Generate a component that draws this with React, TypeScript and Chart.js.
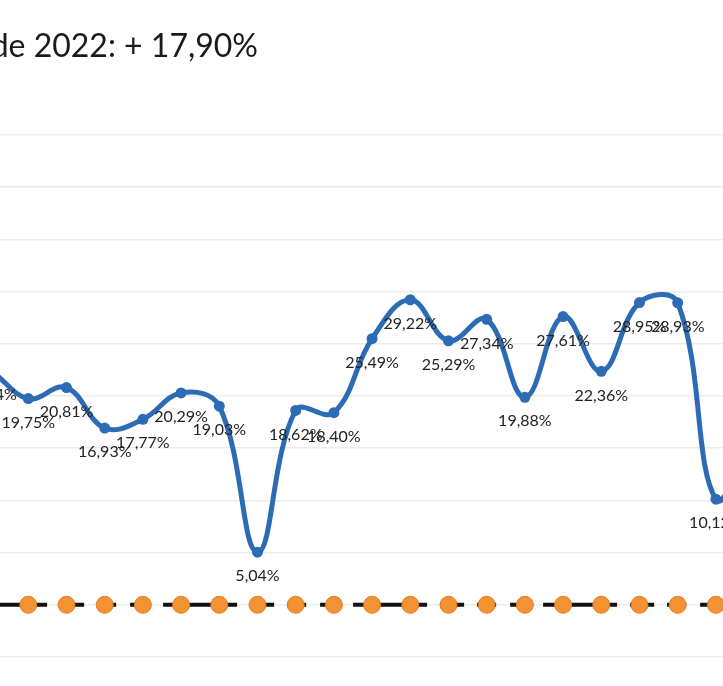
import React, { useEffect, useRef } from "react";
import { Chart, registerables } from "chart.js";

Chart.register(...registerables);

// Month positions (only part of the full series is visible in the cropped view)
const monthIndex = [-2, -1, 0, 1, 2, 3, 4, 5, 6, 7, 8, 9, 10, 11, 12, 13, 14, 15, 16, 17, 18, 19];
const rentabilidad = [24.1, 22.44, 19.75, 20.81, 16.93, 17.77, 20.29, 19.03, 5.04, 18.62, 18.4, 25.49, 29.22, 25.29, 27.34, 19.88, 27.61, 22.36, 28.95, 28.93, 10.12, 17.5];
const referencia = [0, 0, 0, 0, 0, 0, 0, 0, 0, 0, 0, 0, 0, 0, 0, 0, 0, 0, 0, 0, 0, 0];
const titleText = "de 2022: + 17,90%";
const yTicks = [-5, 0, 5, 10, 15, 20, 25, 30, 35, 40, 45];

const fmt = (v: number) => v.toFixed(2).replace(".", ",") + "%";

const labelPlugin = {
  id: "valueLabels",
  afterDatasetsDraw(chart: any) {
    const ctx = chart.ctx;
    const meta = chart.getDatasetMeta(0);
    ctx.save();
    ctx.font = "16px Lato";
    ctx.fillStyle = "#222222";
    ctx.textAlign = "center";
    ctx.textBaseline = "middle";
    meta.data.forEach((pt: any, i: number) => {
      ctx.fillText(fmt(rentabilidad[i]), pt.x, pt.y + 24);
    });
    ctx.restore();
  },
};

const titlePlugin = {
  id: "cutTitle",
  afterDraw(chart: any) {
    const ctx = chart.ctx;
    ctx.save();
    ctx.font = "32px Lato";
    ctx.fillStyle = "#1a1a1a";
    ctx.textAlign = "right";
    ctx.textBaseline = "alphabetic";
    ctx.fillText(titleText, 258, 57);
    ctx.restore();
  },
};

export default function App() {
  const ref = useRef<HTMLCanvasElement | null>(null);
  useEffect(() => {
    document.body.style.margin = "0";
    document.body.style.overflow = "hidden";
    const canvas = ref.current;
    if (!canvas) return;
    const chart = new Chart(canvas, {
      type: "line",
      data: {
        datasets: [
          {
            data: monthIndex.map((x, i) => ({ x, y: rentabilidad[i] })),
            borderColor: "#2d6cb5",
            backgroundColor: "#2d6cb5",
            borderWidth: 5,
            pointRadius: 5.5,
            pointBorderWidth: 0,
            tension: 0.4,
            fill: false,
          },
          {
            data: monthIndex.map((x, i) => ({ x, y: referencia[i] })),
            borderColor: "#111111",
            backgroundColor: "#f39233",
            pointBorderColor: "#e07d22",
            pointBorderWidth: 1,
            borderWidth: 4,
            borderDash: [74, 13, 24, 13, 19, 14, 16, 17],
            borderDashOffset: 17,
            pointRadius: 8.5,
            tension: 0,
            fill: false,
          },
        ],
      },
      options: {
        animation: false,
        responsive: false,
        events: [],
        layout: { padding: { top: 135, bottom: 29, left: 0, right: 0 }, autoPadding: false },
        plugins: { legend: { display: false }, tooltip: { enabled: false }, title: { display: false } },
        scales: {
          x: { type: "linear", display: false, min: -0.741, max: 18.186 },
          y: {
            min: -5,
            max: 45,
            afterBuildTicks: (s: any) => {
              s.ticks = yTicks.map((v) => ({ value: v }));
            },
            afterFit: (s: any) => {
              s.width = 0;
            },
            ticks: { display: false },
            border: { display: false },
            grid: { color: "#ececec", lineWidth: 1.5, drawTicks: false },
          },
        },
      },
      plugins: [labelPlugin, titlePlugin],
    });
    return () => chart.destroy();
  }, []);
  return (
    <div style={{ width: 723, height: 686, background: "#ffffff" }}>
      <canvas ref={ref} width={723} height={686} style={{ display: "block" }} />
    </div>
  );
}
